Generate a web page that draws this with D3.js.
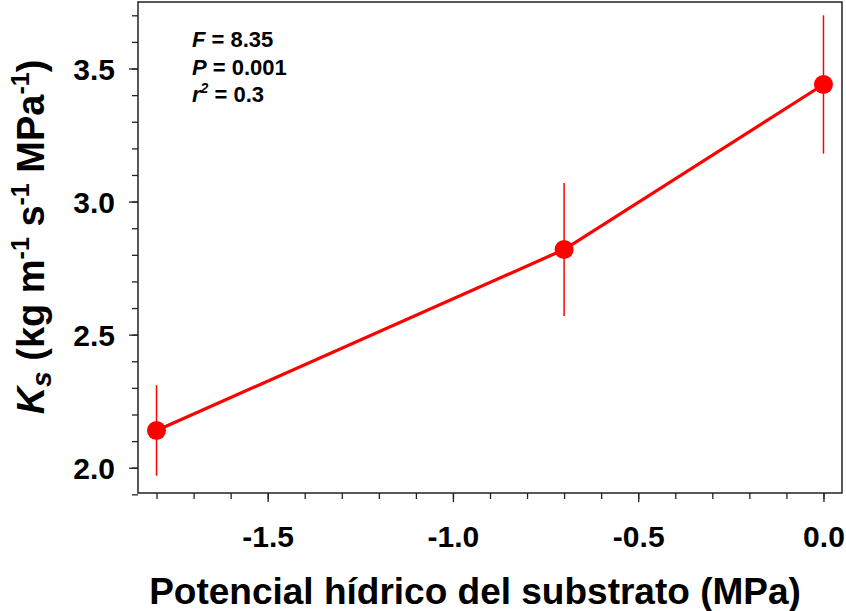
<!DOCTYPE html>
<html>
<head>
<meta charset="utf-8">
<script src="https://cdn.jsdelivr.net/npm/d3@7"></script>
<style>
  body { margin: 0; background: #fff; }
  text { font-family: "Liberation Sans", Arial, Helvetica, sans-serif; font-weight: bold; }
</style>
</head>
<body>
<svg id="chart" width="846" height="611"></svg>
<script>
// data
var potencial = [-1.8, -0.7, 0.0]
var ks = [2.14, 2.82, 3.44]
var ksErr = [0.17, 0.25, 0.26]
var xMajor = [-1.5, -1.0, -0.5, 0.0]
var yMajor = [2.0, 2.5, 3.0, 3.5]
var stats = [["F", " = 8.35"], ["P", " = 0.001"], ["r", " = 0.3"]]

var mLeft = 138, mTop = 2, mRight = 842, mBottom = 493
var red = "#ff0000"
var axisColor = "#222"

var svg = d3.select("#chart")

var x = d3.scaleLinear().domain([-1.85, 0.05]).range([mLeft, mRight])
var y = d3.scaleLinear().domain([1.905, 3.75]).range([mBottom, mTop])

var xMinor = d3.range(-18, 1).map(function (d) { return d / 10 })
var yMinor = d3.range(19, 38).map(function (d) { return d / 10 })
var fmt = function (d) { return d3.format(".1f")(d).replace("\u2212", "-") }

// minor ticks first (no labels)
svg.append("g")
  .attr("transform", "translate(0," + mBottom + ")")
  .call(d3.axisBottom(x).tickValues(xMinor).tickSize(6).tickFormat(""))
svg.append("g")
  .attr("transform", "translate(" + mLeft + ",0)")
  .call(d3.axisLeft(y).tickValues(yMinor).tickSize(6).tickFormat(""))

// major ticks with labels
var gx = svg.append("g")
  .attr("transform", "translate(0," + mBottom + ")")
  .call(d3.axisBottom(x).tickValues(xMajor).tickSize(9).tickPadding(24).tickFormat(fmt))
var gy = svg.append("g")
  .attr("transform", "translate(" + mLeft + ",0)")
  .call(d3.axisLeft(y).tickValues(yMajor).tickSize(9).tickPadding(14).tickFormat(fmt))

svg.selectAll(".domain").remove()
svg.selectAll(".tick line").attr("stroke", axisColor).attr("stroke-width", 1.3)
gx.selectAll("text").attr("font-size", 30).attr("fill", "#000")
gy.selectAll("text").attr("font-size", 30).attr("fill", "#000").attr("dy", "0.36em")

// frame
svg.append("rect")
  .attr("x", mLeft).attr("y", mTop)
  .attr("width", mRight - mLeft).attr("height", mBottom - mTop)
  .attr("fill", "none").attr("stroke", axisColor).attr("stroke-width", 1.5)

// error bars
svg.append("g").selectAll("line")
  .data(potencial)
  .join("line")
  .attr("x1", function (d) { return x(d) })
  .attr("x2", function (d) { return x(d) })
  .attr("y1", function (d, i) { return y(ks[i] + ksErr[i]) })
  .attr("y2", function (d, i) { return y(ks[i] - ksErr[i]) })
  .attr("stroke", red).attr("stroke-width", 1.5)

// line
var line = d3.line()
  .x(function (d) { return x(d) })
  .y(function (d, i) { return y(ks[i]) })
svg.append("path")
  .datum(potencial)
  .attr("d", line)
  .attr("fill", "none").attr("stroke", red).attr("stroke-width", 3.2)

// points
svg.append("g").selectAll("circle")
  .data(potencial)
  .join("circle")
  .attr("cx", function (d) { return x(d) })
  .attr("cy", function (d, i) { return y(ks[i]) })
  .attr("r", 9.5)
  .attr("fill", red)

// stats text
var st = svg.append("g")
stats.forEach(function (s, i) {
  var t = st.append("text")
    .attr("x", 192).attr("y", 47 + i * 27.5)
    .attr("font-size", 22).attr("fill", "#000")
  t.append("tspan").attr("font-style", "italic").text(s[0])
  if (s[0] == "r") {
    t.append("tspan").attr("font-style", "italic").attr("font-size", 14).attr("dy", -9).text("2")
    t.append("tspan").attr("dy", 9).text(s[1])
  } else {
    t.append("tspan").text(s[1])
  }
})

// x label
svg.append("text")
  .attr("x", 475).attr("y", 604)
  .attr("text-anchor", "middle")
  .attr("font-size", 37).attr("fill", "#000")
  .text("Potencial hídrico del substrato (MPa)")

// y label
var yl = svg.append("text")
  .attr("transform", "translate(44," + 237 + ") rotate(-90)")
  .attr("text-anchor", "middle")
  .attr("font-size", 38).attr("fill", "#000")
yl.append("tspan").attr("font-style", "italic").text("K")
yl.append("tspan").attr("font-style", "italic").attr("font-size", 28).attr("dy", 7).text("s")
yl.append("tspan").attr("dy", -7).text(" (kg m")
yl.append("tspan").attr("font-size", 25).attr("dy", -15).text("-1")
yl.append("tspan").attr("dy", 15).text(" s")
yl.append("tspan").attr("font-size", 25).attr("dy", -15).text("-1")
yl.append("tspan").attr("dy", 15).text(" MPa")
yl.append("tspan").attr("font-size", 25).attr("dy", -15).text("-1")
yl.append("tspan").attr("dy", 15).text(")")
</script>
</body>
</html>
